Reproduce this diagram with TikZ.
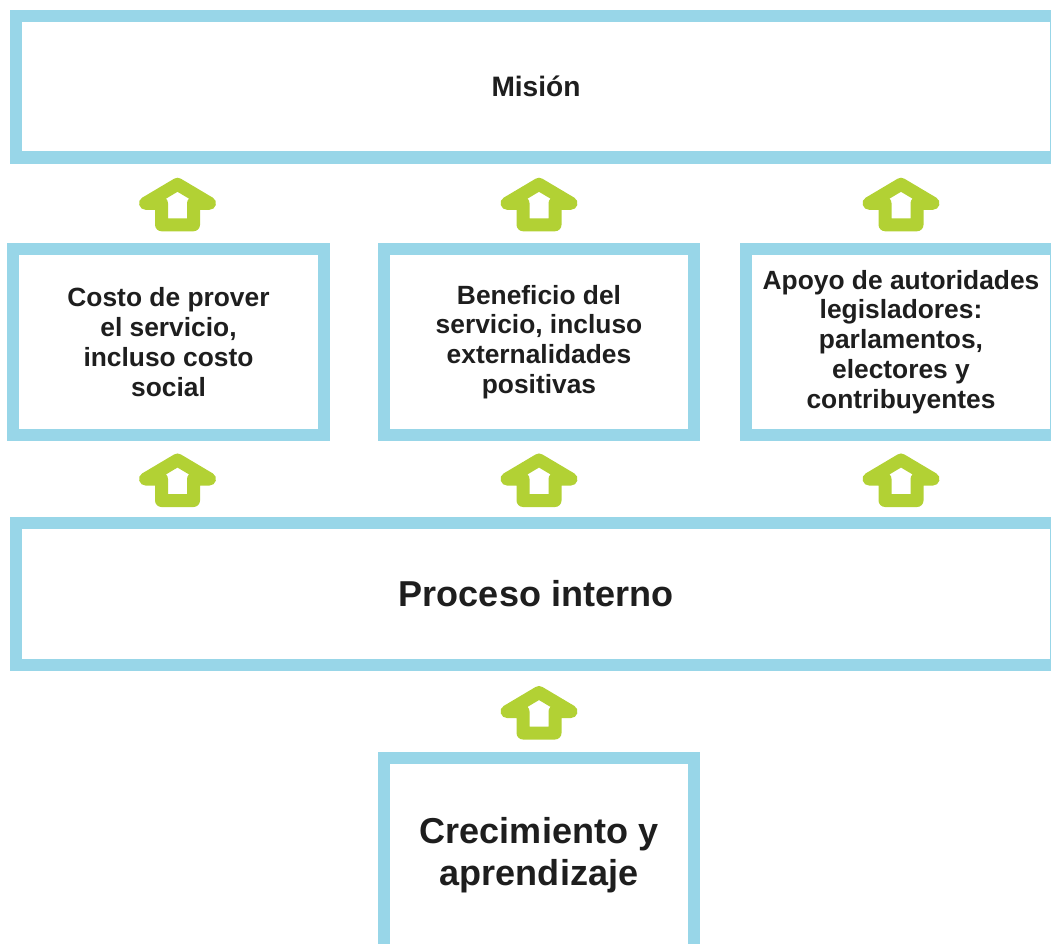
\documentclass[tikz,border=0pt]{standalone}
\usepackage{fontspec}
\setmainfont{Liberation Sans}
\usetikzlibrary{calc}
\definecolor{boxblue}{RGB}{152,214,232}
\definecolor{arrgreen}{RGB}{178,209,52}
\definecolor{txtgray}{RGB}{30,30,30}

\begin{document}
\begin{tikzpicture}[x=0.02cm, y=-0.02cm]
\tikzstyle{level} = [rectangle, draw=boxblue, line width=0.25cm, fill=white, text=txtgray, align=center, font=\fontsize{15}{17}\selectfont\bfseries]
\tikzset{uparr/.pic={\draw[arrgreen, line width=0.26cm, line join=round, fill=white] (0,-19) -- (32,0) -- (16,0) -- (16,21.5) -- (-16,21.5) -- (-16,0) -- (-32,0) -- cycle;}}
\useasboundingbox (0,0) rectangle (1051,943);
\clip (0,0) rectangle (1051,943);
\node[level, minimum width=20.8cm, minimum height=2.83cm, font=\fontsize{16}{19}\selectfont\bfseries] at (536,86.75) (mision){Misi\'on};
\node[level, minimum width=6.22cm, minimum height=3.72cm] at (168.5,342) (costo){Costo de prover\\el servicio,\\incluso costo\\social};
\node[level, minimum width=6.2cm, minimum height=3.72cm] at (539,342) (beneficio){Beneficio del\\servicio, incluso\\externalidades\\positivas};
\node[level, minimum width=6.2cm, minimum height=3.72cm] at (901,342) (apoyo){Apoyo de autoridades\\legisladores:\\parlamentos,\\electores y\\contribuyentes};
\node[level, minimum width=20.8cm, minimum height=2.84cm, font=\fontsize{20.5}{24}\selectfont\bfseries] at (536,594) (proceso){Proceso interno};
\node[level, minimum width=6.2cm, minimum height=3.88cm, font=\fontsize{20.5}{24}\selectfont\bfseries] at (539,855) (crecimiento){Crecimiento y\\aprendizaje};
% block arrows between the levels
\coordinate (up_costo) at ($(costo.north)!0.5!(costo.north |- mision.south) + (9,0)$);
\coordinate (up_beneficio) at ($(beneficio.north)!0.5!(beneficio.north |- mision.south)$);
\coordinate (up_apoyo) at ($(apoyo.north)!0.5!(apoyo.north |- mision.south)$);
\coordinate (in_costo) at ($(costo.south)!0.5!(costo.south |- proceso.north) + (9,0)$);
\coordinate (in_beneficio) at ($(beneficio.south)!0.5!(beneficio.south |- proceso.north)$);
\coordinate (in_apoyo) at ($(apoyo.south)!0.5!(apoyo.south |- proceso.north)$);
\coordinate (in_crecimiento) at ($(crecimiento.north)!0.5!(crecimiento.north |- proceso.south)$);
\pic at (up_costo) {uparr};
\pic at (up_beneficio) {uparr};
\pic at (up_apoyo) {uparr};
\pic at (in_costo) {uparr};
\pic at (in_beneficio) {uparr};
\pic at (in_apoyo) {uparr};
\pic at (in_crecimiento) {uparr};
\end{tikzpicture}
\end{document}
